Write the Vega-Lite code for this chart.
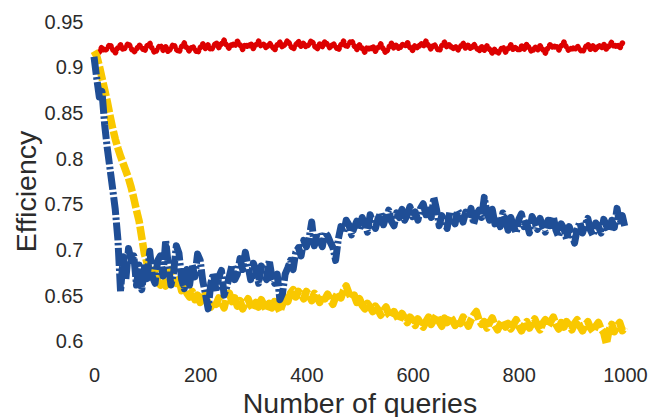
{
  "$schema": "https://vega.github.io/schema/vega-lite/v6.json",
  "width": 531,
  "height": 338,
  "autosize": {"type": "none"},
  "padding": {"left": 94, "top": 22, "right": 24, "bottom": 57},
  "background": "white",
  "config": {
    "view": {"stroke": null},
    "font": "Liberation Sans",
    "axis": {
      "domain": false,
      "ticks": false,
      "grid": false,
      "labelFont": "Liberation Sans",
      "labelFontSize": 20,
      "labelColor": "#2b2b2b",
      "titleFont": "Liberation Sans",
      "titleFontSize": 28.5,
      "titleFontWeight": "normal",
      "titleColor": "#2b2b2b",
      "labelFlush": false,
      "labelOverlap": false
    }
  },
  "data": {
    "values": [
      {"q":0,"r":null,"g":0.918,"b":0.912},
      {"q":5,"r":null,"g":0.913,"b":0.889},
      {"q":10,"r":0.917,"g":0.902,"b":0.868},
      {"q":15,"r":0.923,"g":0.889,"b":0.874},
      {"q":20,"r":0.918,"g":0.876,"b":0.838},
      {"q":25,"r":0.921,"g":0.863,"b":0.812},
      {"q":30,"r":0.926,"g":0.848,"b":0.79},
      {"q":35,"r":0.92,"g":0.834,"b":0.768},
      {"q":40,"r":0.916,"g":0.822,"b":0.745},
      {"q":45,"r":0.922,"g":0.812,"b":0.712},
      {"q":50,"r":0.925,"g":0.803,"b":0.655},
      {"q":55,"r":0.919,"g":0.795,"b":0.693},
      {"q":60,"r":0.923,"g":0.787,"b":0.668},
      {"q":65,"r":0.927,"g":0.779,"b":0.702},
      {"q":70,"r":0.921,"g":0.769,"b":0.689},
      {"q":75,"r":0.917,"g":0.757,"b":0.694},
      {"q":80,"r":0.92,"g":0.744,"b":0.662},
      {"q":85,"r":0.925,"g":0.732,"b":0.684},
      {"q":90,"r":0.922,"g":0.714,"b":0.657},
      {"q":95,"r":0.918,"g":0.696,"b":0.681},
      {"q":100,"r":0.924,"g":0.686,"b":0.669},
      {"q":105,"r":0.927,"g":0.676,"b":0.699},
      {"q":110,"r":0.92,"g":0.671,"b":0.671},
      {"q":115,"r":0.916,"g":0.679,"b":0.664},
      {"q":120,"r":0.921,"g":0.666,"b":0.689},
      {"q":125,"r":0.925,"g":0.662,"b":0.694},
      {"q":130,"r":0.919,"g":0.668,"b":0.672},
      {"q":135,"r":0.923,"g":0.661,"b":0.711},
      {"q":140,"r":0.917,"g":0.674,"b":0.683},
      {"q":145,"r":0.922,"g":0.679,"b":0.662},
      {"q":150,"r":0.926,"g":0.67,"b":0.676},
      {"q":155,"r":0.92,"g":0.664,"b":0.705},
      {"q":160,"r":0.917,"g":0.668,"b":0.697},
      {"q":165,"r":0.923,"g":0.656,"b":0.668},
      {"q":170,"r":0.927,"g":0.661,"b":0.658},
      {"q":175,"r":0.921,"g":0.653,"b":0.679},
      {"q":180,"r":0.918,"g":0.649,"b":0.662},
      {"q":185,"r":0.924,"g":0.655,"b":0.684},
      {"q":190,"r":0.92,"g":0.646,"b":0.671},
      {"q":195,"r":0.916,"g":0.651,"b":0.696},
      {"q":200,"r":0.922,"g":0.643,"b":0.689},
      {"q":205,"r":0.926,"g":0.648,"b":0.666},
      {"q":210,"r":0.921,"g":0.652,"b":0.652},
      {"q":215,"r":0.925,"g":0.641,"b":0.636},
      {"q":220,"r":0.919,"g":0.638,"b":0.664},
      {"q":225,"r":0.923,"g":0.645,"b":0.675},
      {"q":230,"r":0.928,"g":0.641,"b":0.655},
      {"q":235,"r":0.922,"g":0.648,"b":0.671},
      {"q":240,"r":0.926,"g":0.643,"b":0.678},
      {"q":245,"r":0.93,"g":0.637,"b":0.651},
      {"q":250,"r":0.924,"g":0.649,"b":0.66},
      {"q":255,"r":0.921,"g":0.653,"b":0.672},
      {"q":260,"r":0.927,"g":0.644,"b":0.684},
      {"q":265,"r":0.923,"g":0.648,"b":0.668},
      {"q":270,"r":0.929,"g":0.639,"b":0.674},
      {"q":275,"r":0.925,"g":0.645,"b":0.691},
      {"q":280,"r":0.92,"g":0.636,"b":0.679},
      {"q":285,"r":0.926,"g":0.642,"b":0.698},
      {"q":290,"r":0.922,"g":0.647,"b":0.683},
      {"q":295,"r":0.927,"g":0.64,"b":0.668},
      {"q":300,"r":0.921,"g":0.635,"b":0.686},
      {"q":305,"r":0.925,"g":0.643,"b":0.679},
      {"q":310,"r":0.929,"g":0.638,"b":0.664},
      {"q":315,"r":0.923,"g":0.646,"b":0.683},
      {"q":320,"r":0.926,"g":0.64,"b":0.676},
      {"q":325,"r":0.921,"g":0.634,"b":0.668},
      {"q":330,"r":0.927,"g":0.642,"b":0.689},
      {"q":335,"r":0.924,"g":0.637,"b":0.671},
      {"q":340,"r":0.919,"g":0.644,"b":0.664},
      {"q":345,"r":0.925,"g":0.639,"b":0.674},
      {"q":350,"r":0.928,"g":0.633,"b":0.646},
      {"q":355,"r":0.922,"g":0.641,"b":0.653},
      {"q":360,"r":0.926,"g":0.648,"b":0.674},
      {"q":365,"r":0.93,"g":0.644,"b":0.681},
      {"q":370,"r":0.924,"g":0.653,"b":0.689},
      {"q":375,"r":0.92,"g":0.657,"b":0.679},
      {"q":380,"r":0.925,"g":0.649,"b":0.698},
      {"q":385,"r":0.929,"g":0.655,"b":0.703},
      {"q":390,"r":0.923,"g":0.652,"b":0.694},
      {"q":395,"r":0.927,"g":0.647,"b":0.711},
      {"q":400,"r":0.922,"g":0.655,"b":0.704},
      {"q":405,"r":0.926,"g":0.651,"b":0.713},
      {"q":410,"r":0.93,"g":0.645,"b":0.731},
      {"q":415,"r":0.924,"g":0.653,"b":0.705},
      {"q":420,"r":0.92,"g":0.649,"b":0.719},
      {"q":425,"r":0.926,"g":0.643,"b":0.711},
      {"q":430,"r":0.923,"g":0.651,"b":0.704},
      {"q":435,"r":0.929,"g":0.647,"b":0.72},
      {"q":440,"r":0.925,"g":0.652,"b":0.716},
      {"q":445,"r":0.921,"g":0.646,"b":0.709},
      {"q":450,"r":0.927,"g":0.641,"b":0.703},
      {"q":455,"r":0.923,"g":0.649,"b":0.689},
      {"q":460,"r":0.919,"g":0.654,"b":0.712},
      {"q":465,"r":0.925,"g":0.648,"b":0.726},
      {"q":470,"r":0.929,"g":0.656,"b":0.719},
      {"q":475,"r":0.922,"g":0.661,"b":0.733},
      {"q":480,"r":0.926,"g":0.653,"b":0.728},
      {"q":485,"r":0.93,"g":0.647,"b":0.717},
      {"q":490,"r":0.924,"g":0.651,"b":0.725},
      {"q":495,"r":0.92,"g":0.643,"b":0.732},
      {"q":500,"r":0.925,"g":0.647,"b":0.723},
      {"q":505,"r":0.921,"g":0.64,"b":0.736},
      {"q":510,"r":0.917,"g":0.636,"b":0.729},
      {"q":515,"r":0.923,"g":0.642,"b":0.72},
      {"q":520,"r":0.919,"g":0.638,"b":0.739},
      {"q":525,"r":0.924,"g":0.633,"b":0.731},
      {"q":530,"r":0.918,"g":0.639,"b":0.724},
      {"q":535,"r":0.922,"g":0.635,"b":0.735},
      {"q":540,"r":0.926,"g":0.629,"b":0.741},
      {"q":545,"r":0.92,"g":0.634,"b":0.728},
      {"q":550,"r":0.916,"g":0.638,"b":0.737},
      {"q":555,"r":0.922,"g":0.63,"b":0.744},
      {"q":560,"r":0.927,"g":0.627,"b":0.732},
      {"q":565,"r":0.921,"g":0.633,"b":0.727},
      {"q":570,"r":0.925,"g":0.628,"b":0.741},
      {"q":575,"r":0.92,"g":0.623,"b":0.736},
      {"q":580,"r":0.926,"g":0.631,"b":0.745},
      {"q":585,"r":0.923,"g":0.626,"b":0.733},
      {"q":590,"r":0.928,"g":0.621,"b":0.739},
      {"q":595,"r":0.922,"g":0.627,"b":0.748},
      {"q":600,"r":0.919,"g":0.624,"b":0.737},
      {"q":605,"r":0.925,"g":0.618,"b":0.742},
      {"q":610,"r":0.921,"g":0.625,"b":0.733},
      {"q":615,"r":0.927,"g":0.62,"b":0.746},
      {"q":620,"r":0.923,"g":0.616,"b":0.751},
      {"q":625,"r":0.929,"g":0.622,"b":0.739},
      {"q":630,"r":0.924,"g":0.627,"b":0.744},
      {"q":635,"r":0.92,"g":0.619,"b":0.736},
      {"q":640,"r":0.926,"g":0.624,"b":0.758},
      {"q":645,"r":0.922,"g":0.629,"b":0.745},
      {"q":650,"r":0.918,"g":0.622,"b":0.727},
      {"q":655,"r":0.924,"g":0.617,"b":0.738},
      {"q":660,"r":0.928,"g":0.626,"b":0.731},
      {"q":665,"r":0.922,"g":0.621,"b":0.724},
      {"q":670,"r":0.926,"g":0.628,"b":0.742},
      {"q":675,"r":0.92,"g":0.624,"b":0.735},
      {"q":680,"r":0.924,"g":0.618,"b":0.729},
      {"q":685,"r":0.919,"g":0.625,"b":0.744},
      {"q":690,"r":0.923,"g":0.62,"b":0.738},
      {"q":695,"r":0.927,"g":0.627,"b":0.731},
      {"q":700,"r":0.921,"g":0.623,"b":0.742},
      {"q":705,"r":0.925,"g":0.617,"b":0.735},
      {"q":710,"r":0.92,"g":0.624,"b":0.746},
      {"q":715,"r":0.926,"g":0.629,"b":0.729},
      {"q":720,"r":0.922,"g":0.633,"b":0.739},
      {"q":725,"r":0.918,"g":0.624,"b":0.744},
      {"q":730,"r":0.923,"g":0.619,"b":0.736},
      {"q":735,"r":0.919,"g":0.622,"b":0.758},
      {"q":740,"r":0.924,"g":0.615,"b":0.741},
      {"q":745,"r":0.92,"g":0.621,"b":0.733},
      {"q":750,"r":0.916,"g":0.626,"b":0.745},
      {"q":755,"r":0.921,"g":0.618,"b":0.729},
      {"q":760,"r":0.915,"g":0.613,"b":0.737},
      {"q":765,"r":0.919,"g":0.619,"b":0.726},
      {"q":770,"r":0.923,"g":0.623,"b":0.741},
      {"q":775,"r":0.917,"g":0.616,"b":0.733},
      {"q":780,"r":0.921,"g":0.62,"b":0.722},
      {"q":785,"r":0.925,"g":0.614,"b":0.736},
      {"q":790,"r":0.919,"g":0.619,"b":0.727},
      {"q":795,"r":0.923,"g":0.624,"b":0.719},
      {"q":800,"r":0.918,"g":0.617,"b":0.734},
      {"q":805,"r":0.924,"g":0.612,"b":0.74},
      {"q":810,"r":0.92,"g":0.618,"b":0.726},
      {"q":815,"r":0.926,"g":0.622,"b":0.73},
      {"q":820,"r":0.921,"g":0.615,"b":0.719},
      {"q":825,"r":0.917,"g":0.62,"b":0.737},
      {"q":830,"r":0.923,"g":0.625,"b":0.731},
      {"q":835,"r":0.919,"g":0.618,"b":0.723},
      {"q":840,"r":0.924,"g":0.613,"b":0.735},
      {"q":845,"r":0.92,"g":0.62,"b":0.726},
      {"q":850,"r":0.916,"g":0.624,"b":0.72},
      {"q":855,"r":0.922,"g":0.617,"b":0.733},
      {"q":860,"r":0.926,"g":0.622,"b":0.727},
      {"q":865,"r":0.921,"g":0.627,"b":0.737},
      {"q":870,"r":0.925,"g":0.619,"b":0.722},
      {"q":875,"r":0.919,"g":0.614,"b":0.715},
      {"q":880,"r":0.924,"g":0.621,"b":0.729},
      {"q":885,"r":0.928,"g":0.616,"b":0.724},
      {"q":890,"r":0.922,"g":0.622,"b":0.712},
      {"q":895,"r":0.918,"g":0.618,"b":0.726},
      {"q":900,"r":0.923,"g":0.613,"b":0.718},
      {"q":905,"r":0.919,"g":0.62,"b":0.708},
      {"q":910,"r":0.924,"g":0.624,"b":0.723},
      {"q":915,"r":0.92,"g":0.617,"b":0.731},
      {"q":920,"r":0.917,"g":0.612,"b":0.719},
      {"q":925,"r":0.922,"g":0.618,"b":0.728},
      {"q":930,"r":0.926,"g":0.622,"b":0.735},
      {"q":935,"r":0.92,"g":0.615,"b":0.722},
      {"q":940,"r":0.924,"g":0.611,"b":0.716},
      {"q":945,"r":0.919,"g":0.617,"b":0.73},
      {"q":950,"r":0.925,"g":0.621,"b":0.726},
      {"q":955,"r":0.921,"g":0.614,"b":0.719},
      {"q":960,"r":0.926,"g":0.61,"b":0.734},
      {"q":965,"r":0.92,"g":0.598,"b":0.727},
      {"q":970,"r":0.924,"g":0.613,"b":0.721},
      {"q":975,"r":0.928,"g":0.619,"b":0.733},
      {"q":980,"r":0.922,"g":0.611,"b":0.725},
      {"q":985,"r":0.926,"g":0.617,"b":0.746},
      {"q":990,"r":0.921,"g":0.621,"b":0.728},
      {"q":995,"r":0.927,"g":0.612,"b":0.738},
      {"q":1000,"r":0.924,"g":0.616,"b":0.725}
    ]
  },
  "encoding": {
    "x": {
      "field": "q",
      "type": "quantitative",
      "scale": {"domain": [0, 1000], "nice": false, "zero": false},
      "axis": {
        "title": "Number of queries",
        "values": [0, 200, 400, 600, 800, 1000],
        "format": "d",
        "labelPadding": 5,
        "titleY": 52,
        "titleBaseline": "alphabetic"
      }
    }
  },
  "layer": [
    {
      "mark": {"type": "line", "color": "#dd0000", "strokeWidth": 5.5, "strokeCap": "round", "strokeJoin": "round", "strokeDash": [0.5, 4]},
      "encoding": {
        "y": {
          "field": "r",
          "type": "quantitative",
          "scale": {"domain": [0.58, 0.95], "nice": false, "zero": false},
          "axis": {
            "title": "Efficiency",
            "values": [0.6, 0.65, 0.7, 0.75, 0.8, 0.85, 0.9, 0.95],
            "format": "~g",
            "labelPadding": 11,
            "titleX": -59,
            "titleBaseline": "alphabetic"
          }
        }
      }
    },
    {
      "mark": {"type": "line", "color": "#f9c800", "strokeWidth": 7.5, "strokeCap": "butt", "strokeJoin": "round", "strokeDash": [14, 2.5]},
      "encoding": {
        "y": {
          "field": "g",
          "type": "quantitative",
          "scale": {"domain": [0.58, 0.95], "nice": false, "zero": false},
          "axis": {
            "title": "Efficiency",
            "values": [0.6, 0.65, 0.7, 0.75, 0.8, 0.85, 0.9, 0.95],
            "format": "~g",
            "labelPadding": 11,
            "titleX": -59,
            "titleBaseline": "alphabetic"
          }
        }
      }
    },
    {
      "mark": {"type": "line", "color": "#1f4e96", "strokeWidth": 7, "strokeCap": "butt", "strokeJoin": "round", "strokeDash": [18, 2.5, 2.5, 2.5]},
      "encoding": {
        "y": {
          "field": "b",
          "type": "quantitative",
          "scale": {"domain": [0.58, 0.95], "nice": false, "zero": false},
          "axis": {
            "title": "Efficiency",
            "values": [0.6, 0.65, 0.7, 0.75, 0.8, 0.85, 0.9, 0.95],
            "format": "~g",
            "labelPadding": 11,
            "titleX": -59,
            "titleBaseline": "alphabetic"
          }
        }
      }
    }
  ]
}
